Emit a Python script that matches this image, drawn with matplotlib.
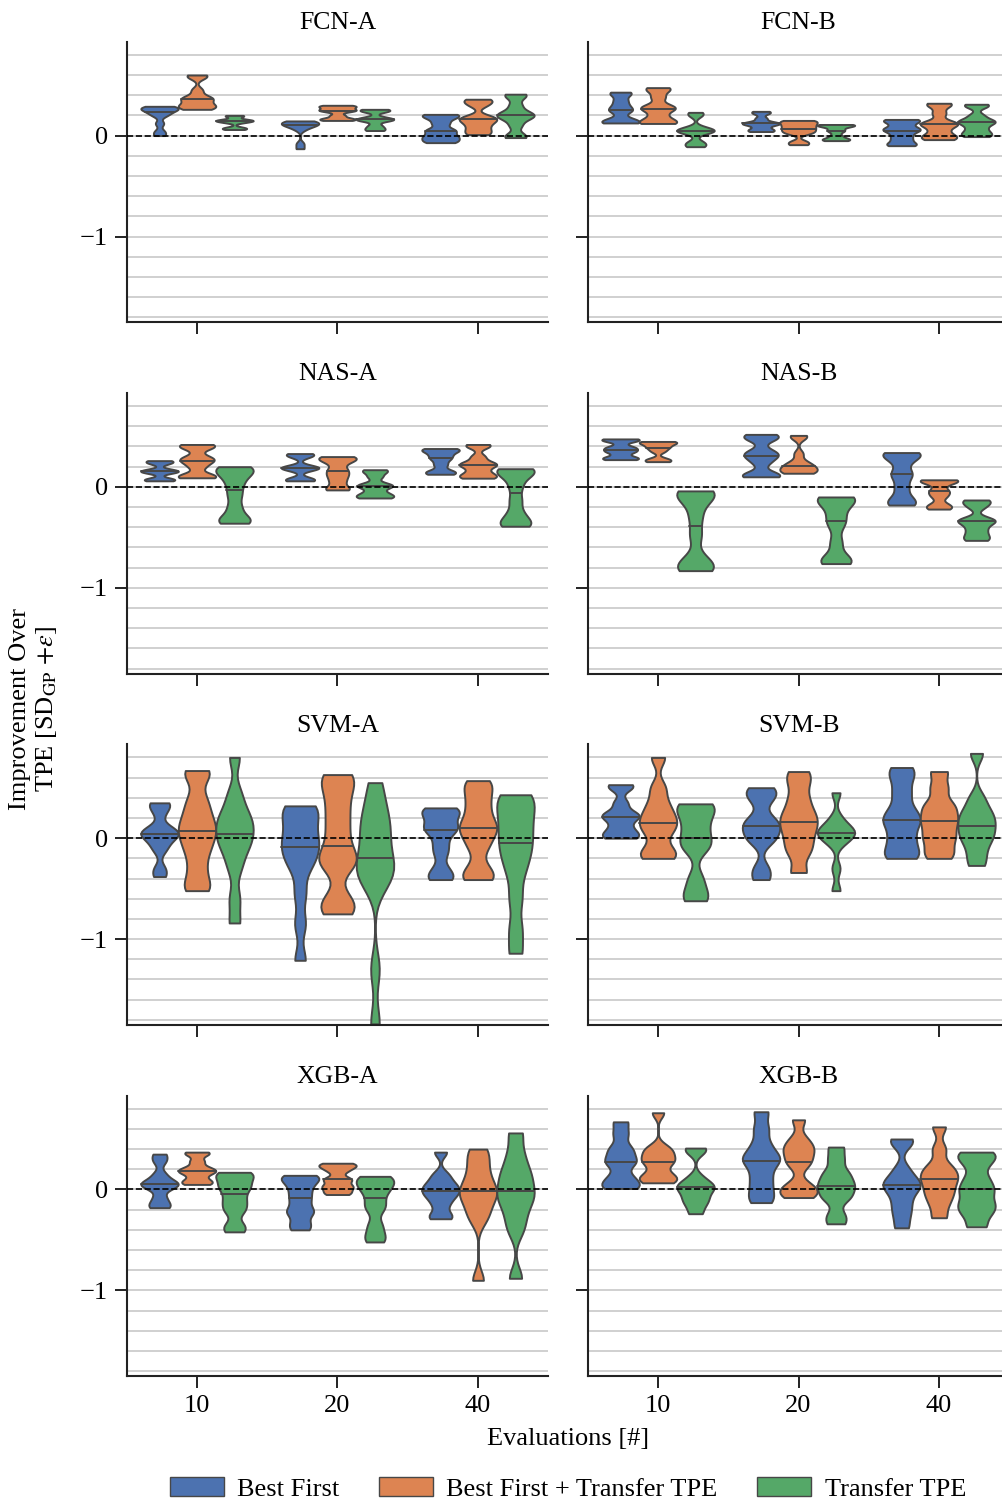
import numpy as np
import pandas as pd
import matplotlib
matplotlib.use("Agg")
import matplotlib.pyplot as plt
from matplotlib.patches import Patch
from matplotlib.ticker import MultipleLocator
import seaborn as sns

evaluations = [10, 20, 40]
methods = ["Best First", "Best First + Transfer TPE", "Transfer TPE"]
colors = ["#4C72B0", "#DD8452", "#55A868"]

# improvement samples per method, one list per evaluation budget (10, 20, 40)
fcn_a = {
    "Best First": [[0.29, 0.28, 0.27, 0.26, 0.25, 0.22, 0.2, 0.12, 0.04, 0.0],
                   [0.145, 0.14, 0.13, 0.12, 0.11, 0.1, 0.09, 0.06, -0.08, -0.13],
                   [0.21, 0.2, 0.17, 0.12, 0.06, 0.04, 0.0, -0.02, -0.05, -0.07]],
    "Best First + Transfer TPE": [[0.6, 0.58, 0.45, 0.38, 0.37, 0.35, 0.31, 0.29, 0.28, 0.26],
                                  [0.3, 0.29, 0.28, 0.26, 0.25, 0.24, 0.2, 0.17, 0.16, 0.15],
                                  [0.36, 0.34, 0.3, 0.19, 0.17, 0.15, 0.12, 0.08, 0.04, 0.01]],
    "Transfer TPE": [[0.2, 0.19, 0.16, 0.15, 0.15, 0.14, 0.13, 0.08, 0.07, 0.06],
                     [0.26, 0.25, 0.24, 0.18, 0.16, 0.16, 0.15, 0.1, 0.07, 0.05],
                     [0.41, 0.39, 0.3, 0.23, 0.21, 0.19, 0.17, 0.1, 0.0, -0.02]],
}
fcn_b = {
    "Best First": [[0.43, 0.41, 0.35, 0.3, 0.26, 0.24, 0.17, 0.14, 0.13, 0.125],
                   [0.24, 0.22, 0.17, 0.13, 0.12, 0.12, 0.1, 0.07, 0.05, 0.04],
                   [0.16, 0.15, 0.12, 0.08, 0.06, 0.04, 0.0, -0.04, -0.08, -0.1]],
    "Best First + Transfer TPE": [[0.475, 0.45, 0.38, 0.3, 0.27, 0.26, 0.2, 0.15, 0.13, 0.12],
                                  [0.15, 0.14, 0.12, 0.1, 0.08, 0.06, 0.04, 0.02, -0.06, -0.09],
                                  [0.32, 0.3, 0.22, 0.13, 0.12, 0.1, 0.05, 0.0, -0.02, -0.04]],
    "Transfer TPE": [[0.23, 0.2, 0.08, 0.06, 0.05, 0.04, 0.03, -0.06, -0.09, -0.11],
                     [0.11, 0.105, 0.1, 0.09, 0.06, 0.04, 0.0, -0.03, -0.04, -0.05],
                     [0.31, 0.29, 0.2, 0.15, 0.14, 0.12, 0.08, 0.04, 0.01, -0.01]],
}
nas_a = {
    "Best First": [[0.26, 0.25, 0.23, 0.17, 0.16, 0.15, 0.14, 0.08, 0.07, 0.06],
                   [0.33, 0.32, 0.3, 0.2, 0.19, 0.19, 0.17, 0.08, 0.07, 0.06],
                   [0.38, 0.37, 0.36, 0.33, 0.3, 0.27, 0.22, 0.16, 0.14, 0.125]],
    "Best First + Transfer TPE": [[0.42, 0.41, 0.38, 0.3, 0.27, 0.25, 0.2, 0.12, 0.1, 0.09],
                                  [0.3, 0.29, 0.27, 0.24, 0.18, 0.14, 0.1, 0.05, -0.01, -0.03],
                                  [0.42, 0.4, 0.3, 0.24, 0.22, 0.21, 0.16, 0.12, 0.1, 0.086]],
    "Transfer TPE": [[0.2, 0.18, 0.15, 0.1, 0.02, -0.08, -0.2, -0.3, -0.34, -0.36],
                     [0.17, 0.15, 0.1, 0.03, 0.01, 0.0, -0.05, -0.08, -0.1, -0.11],
                     [0.18, 0.17, 0.15, 0.1, 0.0, -0.13, -0.25, -0.33, -0.37, -0.39]],
}
nas_b = {
    "Best First": [[0.475, 0.47, 0.45, 0.4, 0.38, 0.36, 0.34, 0.3, 0.28, 0.27],
                   [0.52, 0.5, 0.47, 0.36, 0.32, 0.3, 0.24, 0.13, 0.11, 0.1],
                   [0.34, 0.33, 0.31, 0.25, 0.15, 0.1, 0.0, -0.1, -0.16, -0.18]],
    "Best First + Transfer TPE": [[0.45, 0.445, 0.44, 0.42, 0.4, 0.38, 0.35, 0.28, 0.26, 0.25],
                                  [0.51, 0.49, 0.33, 0.25, 0.22, 0.2, 0.18, 0.16, 0.14, 0.135],
                                  [0.07, 0.065, 0.06, 0.03, -0.03, -0.06, -0.1, -0.17, -0.2, -0.22]],
    "Transfer TPE": [[-0.04, -0.05, -0.08, -0.15, -0.3, -0.48, -0.7, -0.78, -0.81, -0.83],
                     [-0.1, -0.11, -0.13, -0.2, -0.3, -0.38, -0.55, -0.7, -0.74, -0.76],
                     [-0.13, -0.15, -0.2, -0.32, -0.33, -0.35, -0.4, -0.45, -0.5, -0.53]],
}
svm_a = {
    "Best First": [[0.35, 0.33, 0.25, 0.12, 0.07, 0.05, 0.04, 0.0, -0.05, -0.12, -0.3, -0.38],
                   [0.32, 0.3, 0.22, 0.12, 0.02, -0.05, -0.12, -0.2, -0.3, -0.55, -0.85, -1.21],
                   [0.3, 0.28, 0.25, 0.2, 0.12, 0.1, 0.06, -0.05, -0.15, -0.3, -0.38, -0.41]],
    "Best First + Transfer TPE": [[0.67, 0.62, 0.4, 0.28, 0.18, 0.1, 0.04, -0.05, -0.15, -0.3, -0.45, -0.52],
                                  [0.63, 0.58, 0.45, 0.3, 0.15, 0.0, -0.16, -0.22, -0.28, -0.6, -0.68, -0.75],
                                  [0.57, 0.5, 0.4, 0.3, 0.2, 0.12, 0.08, 0.0, -0.1, -0.28, -0.38, -0.41]],
    "Transfer TPE": [[0.8, 0.45, 0.3, 0.2, 0.15, 0.08, 0.0, -0.05, -0.15, -0.3, -0.6, -0.84],
                     [0.55, 0.35, 0.2, 0.1, 0.02, -0.15, -0.25, -0.3, -0.38, -0.45, -1.3, -1.84],
                     [0.43, 0.4, 0.3, 0.2, 0.1, 0.0, -0.1, -0.2, -0.35, -0.6, -0.9, -1.14]],
}
svm_b = {
    "Best First": [[0.53, 0.5, 0.35, 0.25, 0.22, 0.2, 0.12, 0.06, 0.02, 0.0],
                   [0.5, 0.45, 0.38, 0.2, 0.14, 0.1, 0.02, -0.03, -0.3, -0.41],
                   [0.7, 0.6, 0.45, 0.3, 0.2, 0.16, 0.05, -0.05, -0.15, -0.2]],
    "Best First + Transfer TPE": [[0.8, 0.5, 0.35, 0.25, 0.18, 0.12, 0.05, -0.1, -0.17, -0.2],
                                  [0.66, 0.55, 0.4, 0.28, 0.2, 0.13, 0.05, -0.05, -0.15, -0.34],
                                  [0.66, 0.5, 0.35, 0.28, 0.2, 0.14, 0.05, -0.02, -0.12, -0.2]],
    "Transfer TPE": [[0.34, 0.32, 0.25, 0.15, 0.05, -0.05, -0.1, -0.4, -0.55, -0.62],
                     [0.45, 0.2, 0.12, 0.08, 0.06, 0.04, 0.0, -0.05, -0.3, -0.52],
                     [0.84, 0.4, 0.28, 0.22, 0.15, 0.1, 0.02, -0.03, -0.15, -0.27]],
}
xgb_a = {
    "Best First": [[0.35, 0.28, 0.15, 0.08, 0.06, 0.04, 0.02, -0.08, -0.15, -0.18],
                   [0.14, 0.12, 0.08, 0.02, -0.05, -0.12, -0.2, -0.24, -0.33, -0.4],
                   [0.37, 0.15, 0.08, 0.03, 0.0, -0.04, -0.08, -0.15, -0.25, -0.29]],
    "Best First + Transfer TPE": [[0.37, 0.35, 0.28, 0.22, 0.19, 0.18, 0.15, 0.1, 0.07, 0.05],
                                  [0.26, 0.24, 0.22, 0.18, 0.11, 0.09, 0.04, 0.02, -0.02, -0.05],
                                  [0.4, 0.3, 0.18, 0.08, 0.0, -0.04, -0.1, -0.2, -0.3, -0.9]],
    "Transfer TPE": [[0.17, 0.15, 0.1, 0.04, 0.0, -0.08, -0.15, -0.22, -0.35, -0.42],
                     [0.13, 0.11, 0.06, 0.02, -0.04, -0.13, -0.2, -0.35, -0.45, -0.52],
                     [0.56, 0.35, 0.2, 0.12, 0.02, -0.06, -0.12, -0.25, -0.4, -0.88]],
}
xgb_b = {
    "Best First": [[0.67, 0.55, 0.42, 0.36, 0.28, 0.26, 0.14, 0.08, 0.03, 0.01],
                   [0.77, 0.6, 0.45, 0.35, 0.3, 0.26, 0.15, 0.05, -0.05, -0.13],
                   [0.5, 0.46, 0.2, 0.1, 0.05, 0.03, -0.05, -0.15, -0.25, -0.38]],
    "Best First + Transfer TPE": [[0.76, 0.42, 0.38, 0.33, 0.28, 0.26, 0.16, 0.12, 0.09, 0.066],
                                  [0.69, 0.5, 0.42, 0.38, 0.3, 0.24, 0.05, 0.0, -0.04, -0.08],
                                  [0.62, 0.4, 0.24, 0.18, 0.12, 0.08, 0.0, -0.06, -0.15, -0.28]],
    "Transfer TPE": [[0.41, 0.38, 0.12, 0.05, 0.03, 0.01, -0.05, -0.1, -0.15, -0.24],
                     [0.42, 0.3, 0.18, 0.12, 0.05, 0.02, -0.05, -0.1, -0.25, -0.34],
                     [0.37, 0.33, 0.25, 0.12, 0.03, -0.03, -0.12, -0.18, -0.25, -0.37]],
}

benchmarks = [("FCN-A", fcn_a), ("FCN-B", fcn_b),
              ("NAS-A", nas_a), ("NAS-B", nas_b),
              ("SVM-A", svm_a), ("SVM-B", svm_b),
              ("XGB-A", xgb_a), ("XGB-B", xgb_b)]

sns.set_style("ticks")
plt.rcParams["font.family"] = ["Liberation Serif", "DejaVu Serif"]
plt.rcParams["mathtext.fontset"] = "stix"
plt.rcParams["font.size"] = 19
plt.rcParams["axes.titlesize"] = 18.5
plt.rcParams["text.color"] = "black"
plt.rcParams["xtick.color"] = "#222222"
plt.rcParams["ytick.color"] = "#222222"
plt.rcParams["xtick.labelcolor"] = "black"
plt.rcParams["ytick.labelcolor"] = "black"
plt.rcParams["axes.edgecolor"] = "#222222"
plt.rcParams["axes.linewidth"] = 1.5
plt.rcParams["xtick.major.width"] = 1.4
plt.rcParams["ytick.major.width"] = 1.4

EDGE = "#474747"
W, H = 1003, 1502
fig = plt.figure(figsize=(W / 100, H / 100), dpi=100)

col_left = [126.75, 587.75]
col_width = 421.5
row_top = [41.7, 393.0, 744.3, 1095.6]
row_height = 280.6


def long_form(panel):
    rows = []
    for m in methods:
        for e, vals in zip(evaluations, panel[m]):
            for v in vals:
                rows.append((e, m, v))
    return pd.DataFrame(rows, columns=["evals", "method", "value"])


def add_medians(ax, panel):
    step = 0.8 / 3
    for coll in ax.collections:
        paths = coll.get_paths()
        if not paths:
            continue
        verts = paths[0].vertices
        center = (verts[:, 0].min() + verts[:, 0].max()) / 2
        cat = int(round(center))
        hue = int(round((center - cat) / step)) + 1
        if not (0 <= cat < 3 and 0 <= hue < 3):
            continue
        med = np.median(panel[methods[hue]][cat])
        right = verts[verts[:, 0] > center + 1e-9]
        order = np.argsort(right[:, 1])
        hw = np.interp(med, right[order, 1], right[order, 0]) - center
        ax.plot([center - hw, center + hw], [med, med], color=EDGE, lw=1.4, zorder=3)


for i, (name, panel) in enumerate(benchmarks):
    r, c = divmod(i, 2)
    rect = [col_left[c] / W, 1 - (row_top[r] + row_height) / H,
            col_width / W, row_height / H]
    ax = fig.add_axes(rect)
    df = long_form(panel)
    sns.violinplot(data=df, x="evals", y="value", hue="method", hue_order=methods,
                   order=evaluations, palette=colors, saturation=1, cut=0,
                   density_norm="width", inner=None, bw_adjust=0.4, gridsize=40,
                   linewidth=1.4, linecolor=EDGE, legend=False, ax=ax)
    add_medians(ax, panel)
    ax.axhline(0, color="black", ls="--", lw=1.2, zorder=4)

    ax.set_xlim(-0.5, 2.5)
    ax.set_ylim(-1.85, 0.93)
    ax.set_yticks([-1, 0])
    ax.yaxis.set_minor_locator(MultipleLocator(0.2))
    ax.grid(axis="y", which="both", color="#d0d0d0", lw=1.4)
    ax.set_axisbelow(True)
    ax.tick_params(which="major", length=8.5, pad=5)
    ax.tick_params(which="minor", length=0)
    ax.set_xlabel("")
    ax.set_ylabel("")
    ax.set_title(name, pad=9)
    if c == 1:
        ax.set_yticklabels([])
    if r < 3:
        ax.set_xticklabels([])
    sns.despine(ax=ax)

fig.text(568 / W, 1 - 1439 / H, "Evaluations [#]", ha="center", va="center")
fig.text(34 / W, 1 - 709 / H, "Improvement Over\nTPE [SD$_{\\mathrm{GP}}$ $+\\varepsilon$]",
         rotation=90, ha="center", va="center", multialignment="center")

handles = [Patch(facecolor=col, edgecolor=EDGE, label=m) for m, col in zip(methods, colors)]
fig.legend(handles=handles, loc="center", bbox_to_anchor=(568 / W, 1 - 1489 / H),
           ncol=3, frameon=False, handlelength=2.05, handleheight=0.75,
           handletextpad=0.5, columnspacing=1.5)

fig.savefig("out.png", dpi=100)
